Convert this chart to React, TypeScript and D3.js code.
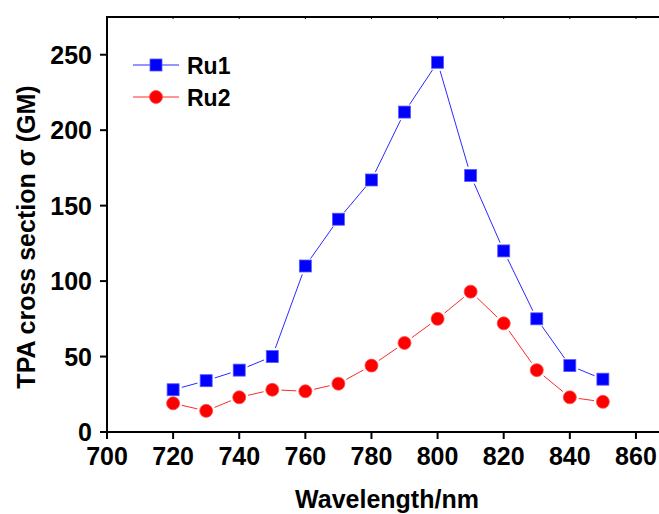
import React from "react";
import * as d3 from "d3";

const wavelengths = [720, 730, 740, 750, 760, 770, 780, 790, 800, 810, 820, 830, 840, 850];
const ru1 = [28, 34, 41, 50, 110, 141, 167, 212, 245, 170, 120, 75, 44, 35];
const ru2 = [19, 14, 23, 28, 27, 32, 44, 59, 75, 93, 72, 41, 23, 20];
const xTicks = [700, 720, 740, 760, 780, 800, 820, 840, 860];
const yTicks = [0, 50, 100, 150, 200, 250];
const seriesNames = ["Ru1", "Ru2"];

const W = 659;
const H = 514;
const FONT = "'Liberation Sans', Arial, sans-serif";

export default function App() {
  const x = d3.scaleLinear().domain([700, 870]).range([107, 669]);
  const y = d3.scaleLinear().domain([0, 275]).range([432, 17]);

  const gapSegments = (vals: number[], gap: number) => {
    const segs: { x1: number; y1: number; x2: number; y2: number }[] = [];
    for (let i = 0; i < vals.length - 1; i++) {
      const ax = x(wavelengths[i]), ay = y(vals[i]);
      const bx = x(wavelengths[i + 1]), by = y(vals[i + 1]);
      const dx = bx - ax, dy = by - ay;
      const len = Math.hypot(dx, dy);
      if (len <= 2 * gap) continue;
      const ux = dx / len, uy = dy / len;
      segs.push({ x1: ax + ux * gap, y1: ay + uy * gap, x2: bx - ux * gap, y2: by - uy * gap });
    }
    return segs;
  };

  const blue = "#0000ff";
  const red = "#ff0000";
  const sq = 12;
  const cr = 6.5;

  return (
    <svg width={W} height={H} style={{ position: "absolute", left: 0, top: 0, background: "#fff" }}>
      <rect x={0} y={0} width={W} height={H} fill="#fff" />
      {gapSegments(ru2, 9).map((s, i) => (
        <line key={"r2l" + i} {...s} stroke="#ff2a2a" strokeWidth={1} />
      ))}
      {gapSegments(ru1, 9).map((s, i) => (
        <line key={"r1l" + i} {...s} stroke="#2a2aff" strokeWidth={1} />
      ))}
      {ru2.map((v, i) => (
        <circle key={"r2m" + i} cx={x(wavelengths[i])} cy={y(v)} r={cr} fill={red} stroke="#ff4d4d" strokeWidth={0.8} />
      ))}
      {ru1.map((v, i) => (
        <rect key={"r1m" + i} x={x(wavelengths[i]) - sq / 2} y={y(v) - sq / 2} width={sq} height={sq} fill={blue} stroke="#5a5aff" strokeWidth={0.8} />
      ))}

      <line x1={x(700)} y1={y(0)} x2={W} y2={y(0)} stroke="#000" strokeWidth={2} />
      <line x1={x(700)} y1={y(275)} x2={W} y2={y(275)} stroke="#000" strokeWidth={2} />
      <line x1={x(700)} y1={y(0) + 1} x2={x(700)} y2={y(275) - 1} stroke="#000" strokeWidth={2} />

      {xTicks.map((t) => (
        <g key={"xt" + t}>
          <line x1={x(t)} y1={y(0)} x2={x(t)} y2={y(0) + 7} stroke="#000" strokeWidth={2} />
          <line x1={x(t)} y1={y(275)} x2={x(t)} y2={y(275) + 2} stroke="#000" strokeWidth={1} />
          <text x={x(t)} y={465} textAnchor="middle" fontFamily={FONT} fontWeight="bold" fontSize={25} fill="#000">
            {t}
          </text>
        </g>
      ))}
      {yTicks.map((t) => (
        <g key={"yt" + t}>
          <line x1={x(700) - 7} y1={y(t)} x2={x(700)} y2={y(t)} stroke="#000" strokeWidth={2} />
          <text x={92} y={y(t) + 9} textAnchor="end" fontFamily={FONT} fontWeight="bold" fontSize={25} fill="#000">
            {t}
          </text>
        </g>
      ))}

      <text x={387} y={508} textAnchor="middle" fontFamily={FONT} fontWeight="bold" fontSize={25} fill="#000">
        Wavelength/nm
      </text>
      <text transform={`translate(35, 237) rotate(-90)`} textAnchor="middle" fontFamily={FONT} fontWeight="bold" fontSize={25} fill="#000">
        TPA cross section σ (GM)
      </text>

      <g>
        <line x1={133} y1={65} x2={179} y2={65} stroke="#2a2aff" strokeWidth={1} />
        <rect x={156 - sq / 2} y={65 - sq / 2} width={sq} height={sq} fill={blue} stroke="#5a5aff" strokeWidth={0.8} />
        <text x={187} y={73.5} fontFamily={FONT} fontWeight="bold" fontSize={23} fill="#000">
          {seriesNames[0]}
        </text>
        <line x1={133} y1={97} x2={179} y2={97} stroke="#ff2a2a" strokeWidth={1} />
        <circle cx={156} cy={97} r={cr} fill={red} stroke="#ff4d4d" strokeWidth={0.8} />
        <text x={187} y={105.5} fontFamily={FONT} fontWeight="bold" fontSize={23} fill="#000">
          {seriesNames[1]}
        </text>
      </g>
    </svg>
  );
}
